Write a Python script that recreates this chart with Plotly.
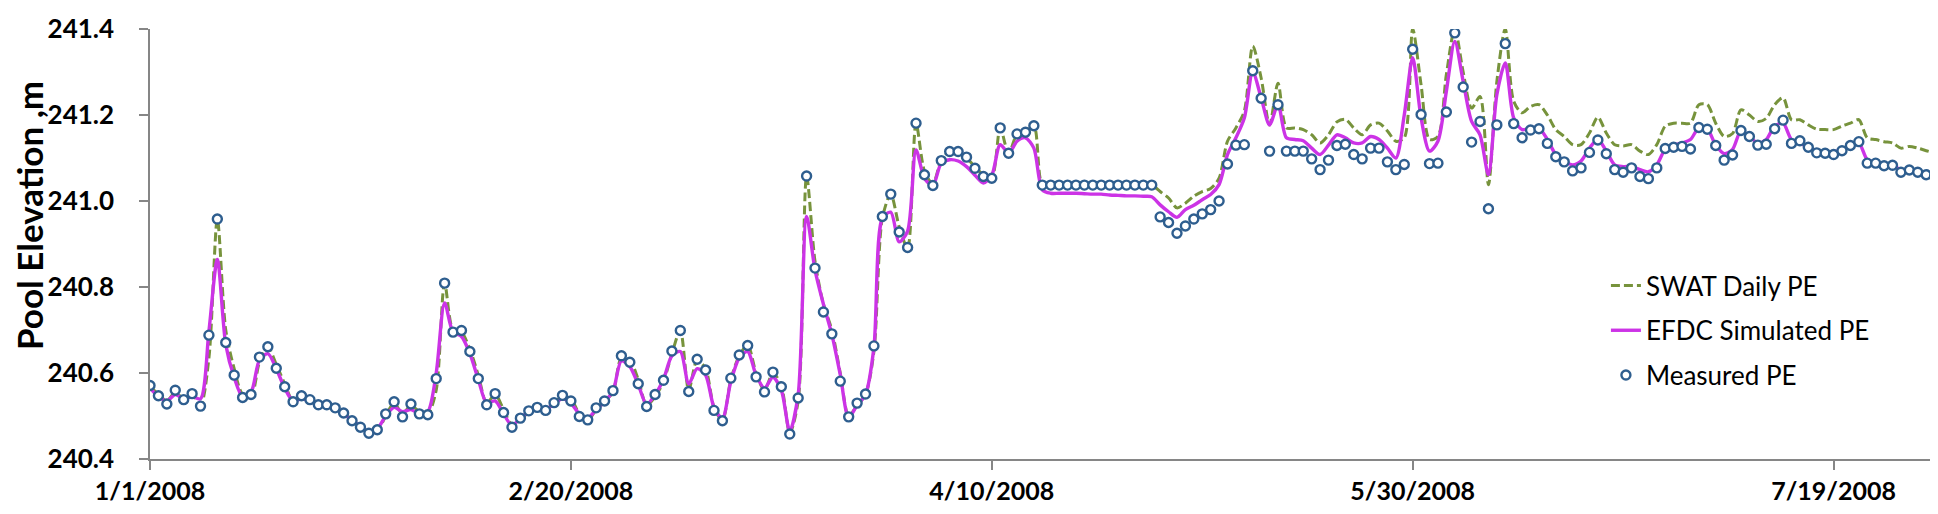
import pandas as pd
import plotly.graph_objects as go

START_DATE = "2008-01-01"

MEASURED_PE = [
    240.571, 240.547, 240.528, 240.560, 240.538, 240.552, 240.523, 240.688, 240.958, 240.671,
    240.595, 240.543, 240.550, 240.637, 240.661, 240.611, 240.568, 240.533, 240.547, 240.538,
    240.526, 240.526, 240.519, 240.507, 240.489, 240.474, 240.460, 240.468, 240.505, 240.533,
    240.498, 240.528, 240.505, 240.503, 240.587, 240.809, 240.695, 240.699, 240.650, 240.587,
    240.526, 240.552, 240.508, 240.474, 240.495, 240.512, 240.520, 240.513, 240.531, 240.548,
    240.535, 240.499, 240.491, 240.519, 240.535, 240.559, 240.640, 240.625, 240.575, 240.522,
    240.550, 240.583, 240.651, 240.699, 240.557, 240.632, 240.607, 240.513, 240.489, 240.588,
    240.642, 240.664, 240.591, 240.556, 240.602, 240.568, 240.458, 240.542, 241.058, 240.844,
    240.742, 240.691, 240.581, 240.498, 240.530, 240.551, 240.663, 240.964, 241.016, 240.928,
    240.892, 241.181, 241.061, 241.036, 241.094, 241.115, 241.115, 241.102, 241.076, 241.057,
    241.053, 241.170, 241.111, 241.156, 241.160, 241.175, 241.037, 241.037, 241.037, 241.037,
    241.037, 241.037, 241.037, 241.037, 241.037, 241.037, 241.037, 241.037, 241.037, 241.037,
    240.963, 240.950, 240.925, 240.942, 240.958, 240.970, 240.980, 241.000, 241.086, 241.130,
    241.131, 241.303, 241.239, 241.116, 241.224, 241.116, 241.116, 241.116, 241.098, 241.073,
    241.095, 241.129, 241.132, 241.108, 241.098, 241.123, 241.123, 241.091, 241.073, 241.085,
    241.353, 241.201, 241.087, 241.088, 241.207, 241.391, 241.265, 241.137, 241.185, 240.982,
    241.177, 241.366, 241.180, 241.147, 241.165, 241.168, 241.134, 241.103, 241.091, 241.070,
    241.077, 241.113, 241.142, 241.110, 241.073, 241.067, 241.077, 241.057, 241.052, 241.077,
    241.122, 241.125, 241.127, 241.121, 241.171, 241.167, 241.129, 241.095, 241.107, 241.164,
    241.150, 241.130, 241.132, 241.168, 241.188, 241.134, 241.140, 241.125, 241.112, 241.111,
    241.108, 241.117, 241.129, 241.138, 241.088, 241.088, 241.082, 241.083, 241.067, 241.072,
    241.067, 241.061, 241.057,
]

EFDC_PE = [
    240.565, 240.545, 240.535, 240.550, 240.540, 240.545, 240.540, 240.697, 240.864, 240.666,
    240.590, 240.545, 240.555, 240.630, 240.645, 240.610, 240.565, 240.535, 240.540, 240.535,
    240.526, 240.524, 240.518, 240.505, 240.490, 240.476, 240.462, 240.470, 240.500, 240.520,
    240.510, 240.515, 240.505, 240.510, 240.600, 240.763, 240.695, 240.685, 240.645, 240.585,
    240.530, 240.535, 240.505, 240.478, 240.495, 240.510, 240.518, 240.515, 240.528, 240.540,
    240.530, 240.505, 240.495, 240.515, 240.533, 240.558, 240.628, 240.615, 240.573, 240.527,
    240.550, 240.585, 240.640, 240.650, 240.575, 240.610, 240.595, 240.520, 240.495, 240.580,
    240.635, 240.650, 240.595, 240.565, 240.590, 240.560, 240.465, 240.550, 240.964, 240.840,
    240.760, 240.690, 240.596, 240.497, 240.525, 240.550, 240.660, 240.960, 240.974, 240.905,
    240.930, 241.119, 241.053, 241.036, 241.088, 241.096, 241.093, 241.080, 241.060, 241.042,
    241.060, 241.131, 241.111, 241.139, 241.147, 241.123, 241.026, 241.018, 241.018, 241.018,
    241.018, 241.017, 241.016, 241.016, 241.014, 241.013, 241.012, 241.012, 241.011, 241.010,
    240.991, 240.975, 240.962, 240.980, 240.990, 241.003, 241.015, 241.038, 241.108, 241.147,
    241.193, 241.300, 241.240, 241.177, 241.224, 241.147, 241.143, 241.140, 241.123, 241.108,
    241.130, 241.154, 241.147, 241.135, 241.135, 241.150, 241.143, 241.123, 241.100, 241.200,
    241.333, 241.193, 241.116, 241.139, 241.255, 241.371, 241.278, 241.185, 241.154, 241.061,
    241.247, 241.321, 241.193, 241.166, 241.170, 241.170, 241.143, 241.108, 241.093, 241.084,
    241.093, 241.123, 241.143, 241.116, 241.084, 241.080, 241.080, 241.073, 241.068, 241.084,
    241.120, 241.130, 241.135, 241.143, 241.170, 241.167, 241.130, 241.110, 241.120, 241.163,
    241.150, 241.135, 241.143, 241.174, 241.181, 241.143, 241.135, 241.125, 241.116, 241.114,
    241.114, 241.120, 241.130, 241.135, 241.096, 241.090, 241.084, 241.082, 241.073, 241.073,
    241.069, 241.063, 241.060,
]

SWAT_PE = [
    240.570, 240.550, 240.535, 240.555, 240.540, 240.550, 240.525, 240.635, 240.958, 240.700,
    240.610, 240.550, 240.545, 240.625, 240.660, 240.620, 240.575, 240.535, 240.545, 240.540,
    240.528, 240.525, 240.520, 240.508, 240.490, 240.475, 240.462, 240.465, 240.500, 240.530,
    240.505, 240.525, 240.510, 240.505, 240.560, 240.809, 240.700, 240.695, 240.655, 240.595,
    240.530, 240.550, 240.515, 240.480, 240.490, 240.510, 240.520, 240.515, 240.530, 240.545,
    240.540, 240.505, 240.490, 240.515, 240.535, 240.555, 240.635, 240.630, 240.585, 240.525,
    240.545, 240.580, 240.645, 240.699, 240.560, 240.630, 240.610, 240.520, 240.490, 240.585,
    240.640, 240.665, 240.600, 240.560, 240.600, 240.570, 240.460, 240.535, 241.058, 240.860,
    240.760, 240.700, 240.600, 240.500, 240.525, 240.550, 240.650, 240.960, 241.016, 240.940,
    240.890, 241.181, 241.070, 241.040, 241.095, 241.115, 241.115, 241.100, 241.080, 241.060,
    241.055, 241.170, 241.110, 241.155, 241.160, 241.175, 241.037, 241.037, 241.037, 241.037,
    241.037, 241.037, 241.037, 241.037, 241.037, 241.037, 241.037, 241.037, 241.037, 241.037,
    241.022, 241.007, 240.984, 240.995, 241.011, 241.022, 241.029, 241.053, 241.139, 241.170,
    241.209, 241.360, 241.286, 241.177, 241.274, 241.170, 241.170, 241.166, 241.154, 241.135,
    241.154, 241.184, 241.190, 241.170, 241.154, 241.177, 241.181, 241.163, 241.139, 241.147,
    241.400, 241.270, 241.143, 241.150, 241.294, 241.400, 241.300, 241.216, 241.243, 241.038,
    241.278, 241.400, 241.232, 241.205, 241.220, 241.224, 241.200, 241.166, 241.150, 241.131,
    241.131, 241.158, 241.195, 241.158, 241.131, 241.128, 241.131, 241.116, 241.108, 241.131,
    241.174, 241.181, 241.181, 241.181, 241.224, 241.224, 241.181, 241.150, 241.157, 241.212,
    241.200, 241.185, 241.192, 241.224, 241.240, 241.189, 241.189, 241.177, 241.167, 241.166,
    241.166, 241.174, 241.181, 241.189, 241.147, 241.143, 241.138, 241.135, 241.123, 241.127,
    241.123, 241.117, 241.112,
]

TICK_DATES = ["2008-01-01", "2008-02-20", "2008-04-10", "2008-05-30", "2008-07-19"]
TICK_LABELS = ["1/1/2008", "2/20/2008", "4/10/2008", "5/30/2008", "7/19/2008"]
Y_TICKS = [240.4, 240.6, 240.8, 241.0, 241.2, 241.4]

dates = pd.date_range(START_DATE, periods=len(MEASURED_PE), freq="D")

FONT = "Lato"
AXIS_COLOR = "#868686"

fig = go.Figure()
fig.add_trace(go.Scatter(
    x=dates, y=SWAT_PE, mode="lines", name="SWAT Daily PE", legendgroup="a",
    line=dict(color="#77933C", width=3, dash="9px,4px", shape="spline", smoothing=0.8),
))
fig.add_trace(go.Scatter(
    x=dates, y=EFDC_PE, mode="lines", name="EFDC Simulated PE", legendgroup="b",
    line=dict(color="#CC33E6", width=3.4, shape="spline", smoothing=0.8),
))
fig.add_trace(go.Scatter(
    x=dates, y=MEASURED_PE, mode="markers", name="Measured PE", legendgroup="c",
    marker=dict(symbol="circle", size=9, color="white",
                line=dict(color="#2E5E8F", width=2.4)),
))

fig.update_layout(
    width=1938, height=514,
    margin=dict(l=142, r=3, t=21, b=63),
    paper_bgcolor="white", plot_bgcolor="white",
    showlegend=True,
    legend=dict(
        x=0.812, y=0.458, xanchor="left", yanchor="top",
        font=dict(family=FONT, size=26, color="black"),
        traceorder="grouped", tracegroupgap=8,
        bgcolor="rgba(0,0,0,0)",
    ),
    xaxis=dict(
        type="date",
        range=["2008-01-01", "2008-08-01"],
        tickvals=TICK_DATES, ticktext=TICK_LABELS,
        showgrid=False, zeroline=False,
        showline=True, linecolor=AXIS_COLOR, linewidth=1.5,
        ticks="outside", ticklen=9, tickcolor=AXIS_COLOR, tickwidth=1.5,
        tickfont=dict(family=FONT, size=25, color="black", weight="bold"),
    ),
    yaxis=dict(
        range=[240.4, 241.4],
        tickvals=Y_TICKS, tickformat=".1f",
        showgrid=False, zeroline=False,
        showline=True, linecolor=AXIS_COLOR, linewidth=1.5,
        ticks="outside", ticklen=9, tickcolor=AXIS_COLOR, tickwidth=1.5,
        tickfont=dict(family=FONT, size=26, color="black", weight="bold"),
        ticklabelstandoff=20,
    ),
    annotations=[dict(
        text="Pool Elevation ,m", textangle=-90,
        xref="paper", yref="paper", x=0, y=0.565,
        xanchor="center", yanchor="middle", xshift=-121, showarrow=False,
        font=dict(family=FONT, size=35, color="black", weight="bold"),
    )],
)

fig.write_html("out.html")
